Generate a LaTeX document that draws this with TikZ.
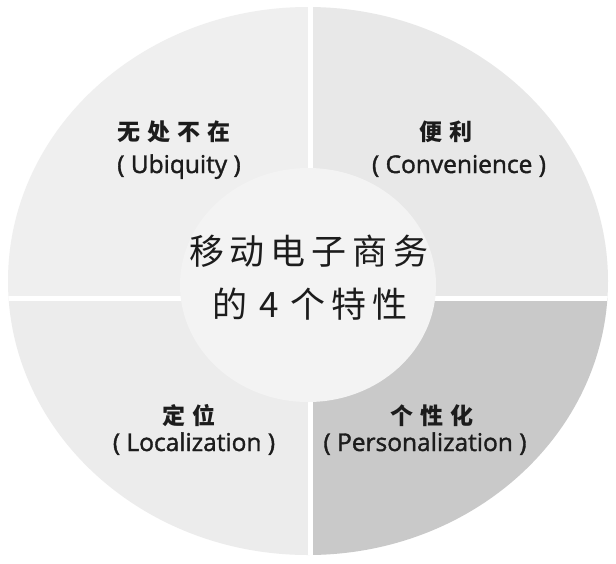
\documentclass[tikz,border=0pt]{standalone}
\usepackage{fontspec}
\setmainfont{Open Sans}[FakeBold=1.5]
\newfontfamily\cjk{Noto Sans CJK SC}
\definecolor{qtl}{HTML}{EFEFEF}
\definecolor{qtr}{HTML}{E8E8E8}
\definecolor{qbl}{HTML}{ECECEC}
\definecolor{qbr}{HTML}{C9C9C9}
\definecolor{hub}{HTML}{F3F3F3}
\definecolor{ink}{HTML}{1C1C1C}
\newcommand{\gp}[1]{\hspace{#1}}
\tikzset{
  zh/.style={inner sep=0pt, text=ink, font=\cjk\bfseries\fontsize{23}{25}\selectfont},
  en/.style={inner sep=0pt, anchor=base, text=ink, font=\fontsize{24.5}{26}\selectfont},
  hubtext/.style={inner sep=0pt, text=ink, font=\cjk\fontsize{35}{38}\selectfont},
}
\begin{document}
\begin{tikzpicture}[x=1pt,y=-1pt]
\useasboundingbox (0,0) rectangle (616,563);
\fill[white] (0,0) rectangle (616,563);
\begin{scope}
  \clip (308,281) ellipse [x radius=300, y radius=274];
  \fill[qtl] (0,0) rectangle (310,298);
  \fill[qtr] (310,0) rectangle (616,298);
  \fill[qbl] (0,298) rectangle (310,563);
  \fill[qbr] (310,298) rectangle (616,563);
  \fill[white] (0,296) rectangle (616,301);
  \fill[white] (308,0) rectangle (313,563);
\end{scope}
\fill[hub] (308,285) ellipse [x radius=128, y radius=117];
\node[hubtext] (hub1) at (309,251) {移\gp{6pt}动\gp{6pt}电\gp{6pt}子\gp{6pt}商\gp{6pt}务};
\node[hubtext] (hub2) at (310,304) {的\gp{12pt}4\gp{12pt}个\gp{6pt}特\gp{6pt}性};
\node[zh] (ubizh) at (174,132) {无\gp{7pt}处\gp{7pt}不\gp{7pt}在};
\node[en] (ubien) at (179,173) {( Ubiquity )};
\node[zh] (conzh) at (446,132) {便\gp{7pt}利};
\node[en] (conen) at (459,173) {( Convenience )};
\node[zh] (loczh) at (189,416) {定\gp{7pt}位};
\node[en] (locen) at (194,451) {( Localization )};
\node[zh] (perzh) at (432,416) {个\gp{7pt}性\gp{7pt}化};
\node[en] (peren) at (425,451) {( Personalization )};
\end{tikzpicture}
\end{document}
